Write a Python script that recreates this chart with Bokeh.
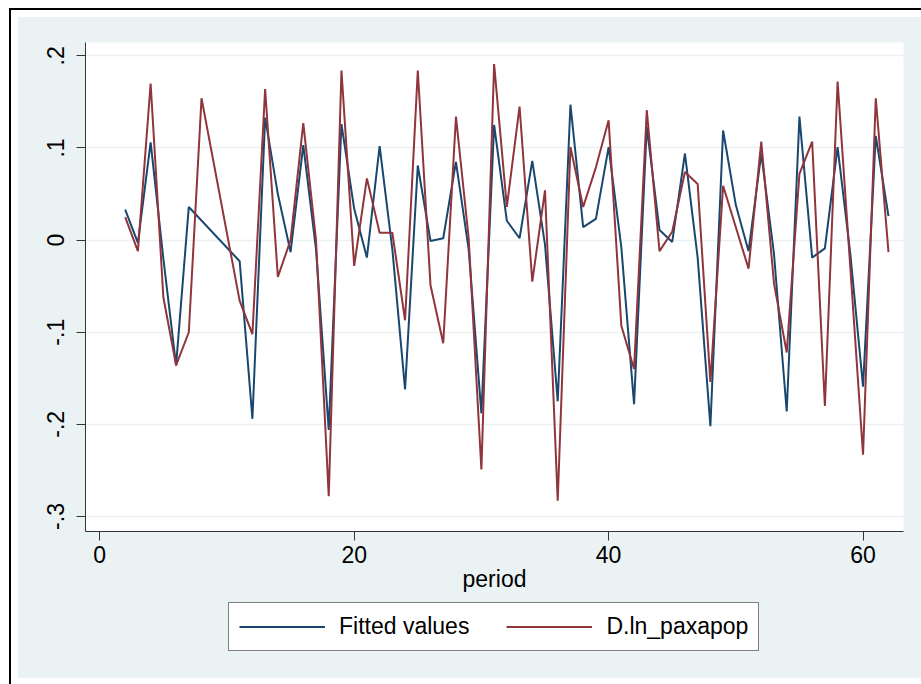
from bokeh.plotting import figure
from bokeh.layouts import column
from bokeh.models import Range1d, FixedTicker, Legend, LegendItem
from bokeh.embed import file_html
from bokeh.resources import INLINE

# ---- data ----
fit_period = [2, 3, 4, 5, 6, 7] + list(range(11, 63))
fitted_values = [0.033, -0.003, 0.106, -0.020, -0.136, 0.036,
                 -0.023, -0.194, 0.133, 0.050, -0.013, 0.103, -0.010, -0.206,
                 0.126, 0.034, -0.019, 0.102, -0.010, -0.162, 0.081, -0.001,
                 0.002, 0.085, -0.010, -0.188, 0.125, 0.021, 0.002, 0.086,
                 -0.005, -0.175, 0.147, 0.014, 0.023, 0.101, -0.008, -0.178,
                 0.123, 0.011, -0.002, 0.094, -0.019, -0.202, 0.119, 0.038,
                 -0.012, 0.094, -0.015, -0.186, 0.134, -0.019, -0.009, 0.101,
                 -0.015, -0.159, 0.113, 0.026]
obs_period = [2, 3, 4, 5, 6, 7, 8] + list(range(11, 63))
d_ln_paxapop = [0.025, -0.012, 0.170, -0.062, -0.136, -0.100, 0.154,
                -0.066, -0.102, 0.164, -0.040, 0.000, 0.127, 0.000, -0.278,
                0.184, -0.028, 0.067, 0.008, 0.008, -0.087, 0.184, -0.049,
                -0.112, 0.134, 0.002, -0.249, 0.191, 0.036, 0.145, -0.045,
                0.054, -0.283, 0.101, 0.036, 0.079, 0.130, -0.093, -0.140,
                0.141, -0.012, 0.009, 0.074, 0.061, -0.154, 0.059, 0.014,
                -0.031, 0.107, -0.047, -0.122, 0.072, 0.107, -0.180, 0.172,
                -0.030, -0.233, 0.154, -0.013]

x_ticks = [0, 20, 40, 60]
y_ticks = [-0.3, -0.2, -0.1, 0, 0.1, 0.2]
y_tick_labels = ["-.3", "-.2", "-.1", "0", ".1", ".2"]
series_names = ["Fitted values", "D.ln_paxapop"]

BG = "#EAF2F3"
NAVY = "#1A476F"
MAROON = "#90353B"
FONT = "Liberation Sans"
FS = "23px"

# ---- main plot ----
p = figure(width=903, height=584, output_backend="svg", toolbar_location=None,
           x_range=Range1d(-1.12, 63.18), y_range=Range1d(-0.3163, 0.2145),
           min_border_left=67, min_border_right=18, min_border_top=25,
           min_border_bottom=70)
p.border_fill_color = BG
p.background_fill_color = "white"
p.outline_line_color = None

p.line(fit_period, fitted_values, line_color=NAVY, line_width=2)
p.line(obs_period, d_ln_paxapop, line_color=MAROON, line_width=2)

p.xaxis.ticker = FixedTicker(ticks=x_ticks)
p.yaxis.ticker = FixedTicker(ticks=y_ticks)
p.yaxis.major_label_overrides = {t: l for t, l in zip(y_ticks, y_tick_labels)}
p.yaxis.major_label_orientation = "vertical"
for ax in (p.xaxis, p.yaxis):
    ax.axis_line_color = "#333333"
    ax.axis_line_width = 1
    ax.major_tick_line_color = "#333333"
    ax.major_tick_out = 9
    ax.major_tick_in = 0
    ax.minor_tick_out = 0
    ax.minor_tick_in = 0
    ax.major_label_text_font = FONT
    ax.major_label_text_font_size = FS
    ax.major_label_text_color = "black"
p.xaxis.major_label_standoff = 5
p.yaxis.major_label_standoff = 12
p.xaxis.axis_label = "period"
p.xaxis.axis_label_text_font = FONT
p.xaxis.axis_label_text_font_size = FS
p.xaxis.axis_label_text_font_style = "normal"
p.xaxis.axis_label_text_color = "black"
p.xaxis.axis_label_standoff = 0

p.xgrid.visible = False
p.ygrid.ticker = FixedTicker(ticks=y_ticks)
p.ygrid.grid_line_color = BG
p.ygrid.grid_line_width = 1.5

# ---- legend strip (same series; lines lie outside its view) ----
pl = figure(width=903, height=77, output_backend="svg", toolbar_location=None,
            x_range=Range1d(0, 1), y_range=Range1d(0, 1),
            x_axis_type=None, y_axis_type=None,
            min_border_left=0, min_border_right=0, min_border_top=0,
            min_border_bottom=0)
pl.border_fill_color = BG
pl.background_fill_color = BG
pl.outline_line_color = None
pl.grid.visible = False
l1 = pl.line(fit_period, fitted_values, line_color=NAVY, line_width=2)
l2 = pl.line(obs_period, d_ln_paxapop, line_color=MAROON, line_width=2)

legend = Legend(items=[LegendItem(label=series_names[0], renderers=[l1]),
                       LegendItem(label=series_names[1], renderers=[l2])],
                location=(143, 27), orientation="horizontal",
                padding=10, margin=0, spacing=37, label_standoff=14,
                glyph_width=86, glyph_height=23, label_height=23,
                label_text_font=FONT, label_text_font_size=FS,
                label_text_color="black",
                border_line_color="black", border_line_width=1,
                background_fill_color="white", background_fill_alpha=1)
pl.add_layout(legend)

layout = column(p, pl, spacing=0)
layout.margin = (17, 0, 0, 18)
layout.styles = {"outline": "2px solid black", "outline-offset": "7px",
                 "background-color": BG}

open("out.html", "w").write(file_html(layout, INLINE))
